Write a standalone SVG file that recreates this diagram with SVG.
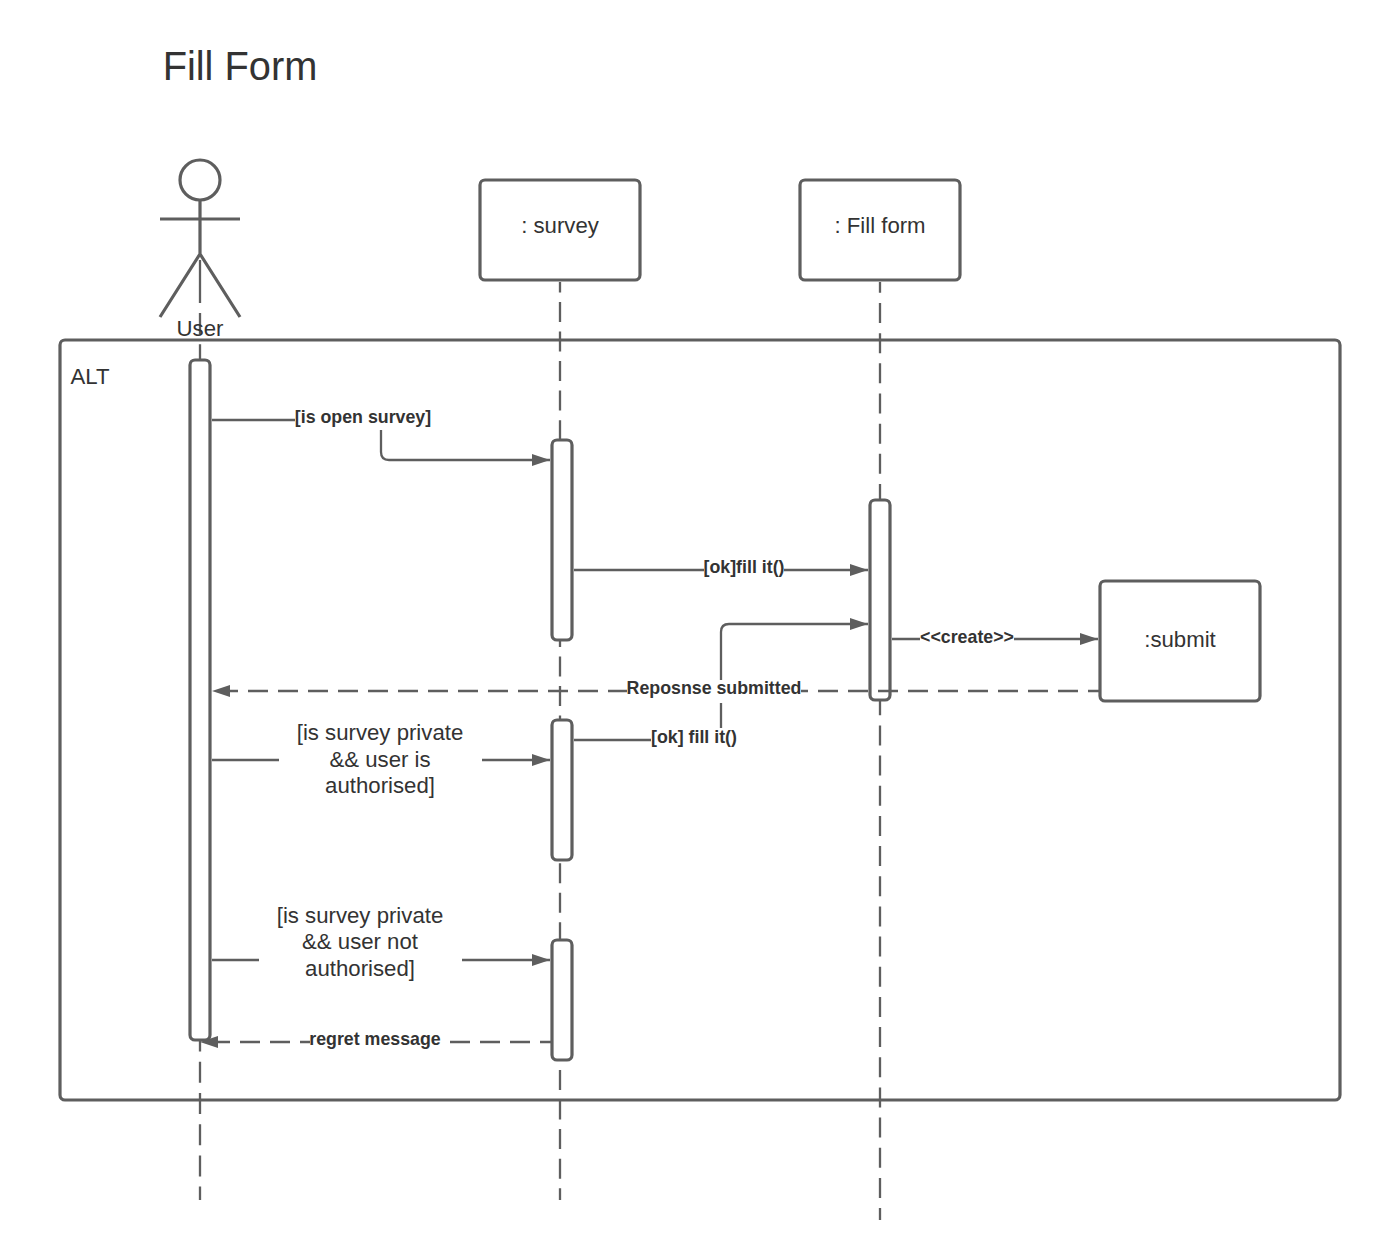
<svg xmlns="http://www.w3.org/2000/svg" width="1380" height="1260" viewBox="0 0 1380 1260">
<style>
text{font-family:"Liberation Sans",Arial,sans-serif;fill:#333;text-anchor:middle}
.s{fill:none;stroke:#5e5e5e;stroke-width:3.2}
.box{fill:#fff;stroke:#5e5e5e;stroke-width:3.2}
.c{fill:none;stroke:#5e5e5e;stroke-width:2.3}
.d{stroke-dasharray:20 10;stroke-dashoffset:8}
.life{fill:none;stroke:#5e5e5e;stroke-width:2.3}
.n{font-size:22.2px}
.b{font-size:17.8px;font-weight:bold}
.bg{fill:#fff;stroke:none}
</style>
<defs><marker id="a" markerUnits="userSpaceOnUse" markerWidth="20" markerHeight="14" refX="18" refY="6" orient="auto"><path d="M0 0L18 6L0 12Z" fill="#5e5e5e"/></marker></defs>
<rect width="1380" height="1260" fill="#fff"/>
<text id="title" x="240" y="80" style="font-size:39.8px">Fill Form</text>
<g id="alt-frame"><rect class="s" x="60" y="340" width="1280" height="760" rx="5"/><text class="n" x="90" y="384">ALT</text></g>
<g id="lifelines">
<path class="life" d="M200 260V303"/>
<path class="life" style="stroke-dasharray:21 10.2" d="M200 313V1200"/>
<path class="life" style="stroke-dasharray:20 9.54;stroke-dashoffset:9.54" d="M560 282V1200"/>
<path class="life" style="stroke-dasharray:20 10.17;stroke-dashoffset:9.17" d="M880 282V1220"/>
</g>
<g id="user"><circle class="s" cx="200" cy="180" r="20"/><path class="s" d="M200 200V254M160 219H240M160 317L200 254L240 317"/><text class="n" x="200" y="336">User</text></g>
<g id="survey"><rect class="box" x="480" y="180" width="160" height="100" rx="5"/><text class="n" x="560" y="233">: survey</text></g>
<g id="fill-form"><rect class="box" x="800" y="180" width="160" height="100" rx="5"/><text class="n" x="880" y="233">: Fill form</text></g>
<g id="activations">
<rect class="box" x="190" y="360" width="20" height="680" rx="5"/>
<rect class="box" x="552" y="440" width="20" height="200" rx="5"/>
<rect class="box" x="870" y="500" width="20" height="200" rx="5"/>
<rect class="box" x="552" y="720" width="20" height="140" rx="5"/>
<rect class="box" x="552" y="940" width="20" height="120" rx="5"/>
</g>
<g id="submit"><rect class="box" x="1100" y="581" width="160" height="120" rx="5"/><text class="n" x="1180" y="647">:submit</text></g>
<g id="connectors">
<path class="c" d="M212 420H381V452Q381 460 389 460H550" marker-end="url(#a)"/>
<path class="c" d="M574 570H868" marker-end="url(#a)"/>
<path class="c" d="M892 639H1098" marker-end="url(#a)"/>
<path class="c" d="M574 740H721V632Q721 624 729 624H868" marker-end="url(#a)"/>
<path class="c d" d="M1100 691H212" marker-end="url(#a)"/>
<path class="c" d="M212 760H550" marker-end="url(#a)"/>
<path class="c" d="M212 960H550" marker-end="url(#a)"/>
<path class="c d" d="M552 1042H200" marker-end="url(#a)"/>
</g>
<g id="labels">
<rect class="bg" x="295" y="406" width="136" height="24"/><text class="b" x="363" y="423">[is open survey]</text>
<rect class="bg" x="704" y="558" width="80" height="22"/><text class="b" x="744" y="573">[ok]fill it()</text>
<rect class="bg" x="920" y="627" width="94" height="20"/><text class="b" x="967" y="643">&lt;&lt;create&gt;&gt;</text>
<rect class="bg" x="627" y="680" width="174" height="23"/><text class="b" x="714" y="694">Reposnse submitted</text>
<rect class="bg" x="651" y="728" width="85" height="22"/><text class="b" x="694" y="743">[ok] fill it()</text>
<rect class="bg" x="310" y="1030" width="139" height="22"/><text class="b" x="375" y="1045">regret message</text>
<rect class="bg" x="279" y="720" width="203" height="80"/>
<text class="n" x="380" y="740">[is survey private</text><text class="n" x="380" y="767">&amp;&amp; user is</text><text class="n" x="380" y="793">authorised]</text>
<rect class="bg" x="259" y="900" width="203" height="80"/>
<text class="n" x="360" y="923">[is survey private</text><text class="n" x="360" y="949">&amp;&amp; user not</text><text class="n" x="360" y="976">authorised]</text>
</g>
</svg>
